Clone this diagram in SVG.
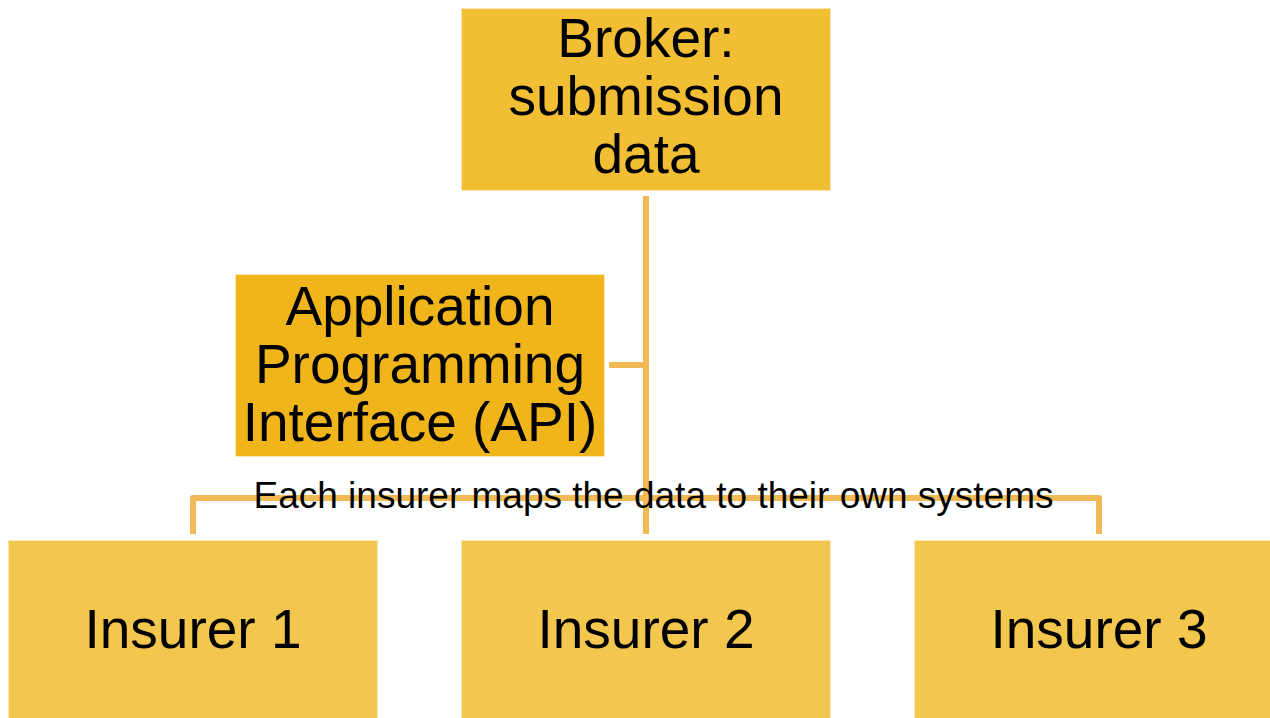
<svg xmlns="http://www.w3.org/2000/svg" width="1270" height="718" viewBox="0 0 1270 718">
  <style>
    .box { stroke: #FBE7B5; stroke-width: 1; }
    .broker { fill: #F2BF34; }
    .api { fill: #F0B51B; }
    .insurer { fill: #F3C74E; }
    .label { font-family: "Liberation Sans", Arial, sans-serif; font-size: 55px; fill: #000; text-anchor: middle; }
    .caption { font-family: "Liberation Sans", Arial, sans-serif; font-size: 37px; fill: #000; text-anchor: middle; }
    .wire { fill: none; stroke: #F2BA55; stroke-width: 6; stroke-linejoin: round; }
  </style>
  <rect width="1270" height="718" fill="#FFFFFF"/>

  <!-- connectors -->
  <g id="connectors">
    <line class="wire" x1="646" y1="196" x2="646" y2="534"/>
    <line class="wire" x1="609" y1="365" x2="646" y2="365"/>
    <path class="wire" d="M193 534 V498 H1099 V534"/>
  </g>

  <g id="broker">
    <rect class="box broker" x="461.5" y="8.5" width="369" height="182"/>
    <text class="label" x="646" y="57">Broker:</text>
    <text class="label" x="646" y="115">submission</text>
    <text class="label" x="646" y="173">data</text>
  </g>

  <g id="api">
    <rect class="box api" x="235.5" y="274.5" width="369" height="182"/>
    <text class="label" x="420" y="325">Application</text>
    <text class="label" x="420" y="383">Programming</text>
    <text class="label" x="420" y="441">Interface (API)</text>
  </g>

  <g id="caption">
    <text class="caption" x="653.5" y="508">Each insurer maps the data to their own systems</text>
  </g>

  <g id="insurer1">
    <rect class="box insurer" x="8.5" y="540.5" width="369" height="182"/>
    <text class="label" x="193" y="648">Insurer 1</text>
  </g>

  <g id="insurer2">
    <rect class="box insurer" x="461.5" y="540.5" width="369" height="182"/>
    <text class="label" x="646" y="648">Insurer 2</text>
  </g>

  <g id="insurer3">
    <rect class="box insurer" x="914.5" y="540.5" width="369" height="182"/>
    <text class="label" x="1099" y="648">Insurer 3</text>
  </g>
</svg>
